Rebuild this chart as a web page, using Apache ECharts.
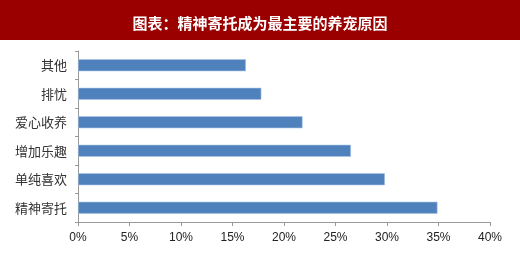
<!DOCTYPE html>
<html><head><meta charset="utf-8">
<script src="https://cdn.jsdelivr.net/npm/echarts@6/dist/echarts.min.js"></script>
<style>html,body{margin:0;padding:0;background:#fff}#c{width:520px;height:274px}</style>
</head><body><div id="c"></div>
<script>
const titleText = '图表：精神寄托成为最主要的养宠原因';
const categories = ['精神寄托','单纯喜欢','增加乐趣','爱心收养','排忧','其他'];
const values = [34.9, 29.8, 26.5, 21.8, 17.8, 16.3];
const xTicks = [0, 5, 10, 15, 20, 25, 30, 35, 40];

const chart = echarts.init(document.getElementById('c'), null, {renderer:'canvas'});
chart.setOption({
  animation: false,
  backgroundColor: '#fff',
  graphic: [{
    type: 'rect', left: 0, top: 0, z: 0,
    shape: {width: 520, height: 40},
    style: {fill: '#9A0000'}
  }],
  title: {
    text: titleText, left: 'center', top: 11,
    textStyle: {color: '#fff', fontSize: 15, fontWeight: 'bold', fontFamily: 'Noto Sans CJK SC'}
  },
  grid: {left: 78, right: 30, top: 51, bottom: 52},
  xAxis: {
    type: 'value', min: xTicks[0], max: xTicks[xTicks.length-1], interval: 5,
    axisLine: {show: true, lineStyle: {color: '#999', width: 1}},
    axisTick: {show: true, length: 4, lineStyle: {color: '#999'}},
    splitLine: {show: false},
    axisLabel: {formatter: v => v + '%', color: '#222', fontSize: 12, margin: 10, fontFamily: 'Liberation Sans'}
  },
  yAxis: {
    type: 'category', data: categories,
    axisLine: {lineStyle: {color: '#999'}},
    axisTick: {show: true, length: 3, lineStyle: {color: '#999'}},
    axisLabel: {color: '#333', fontSize: 13, margin: 11, fontFamily: 'Noto Sans CJK SC'}
  },
  series: [{
    type: 'bar', data: values, barWidth: 12,
    itemStyle: {color: '#4F81BD', borderColor: '#A9C4E4', borderWidth: 0.6}
  }]
});
</script></body></html>
